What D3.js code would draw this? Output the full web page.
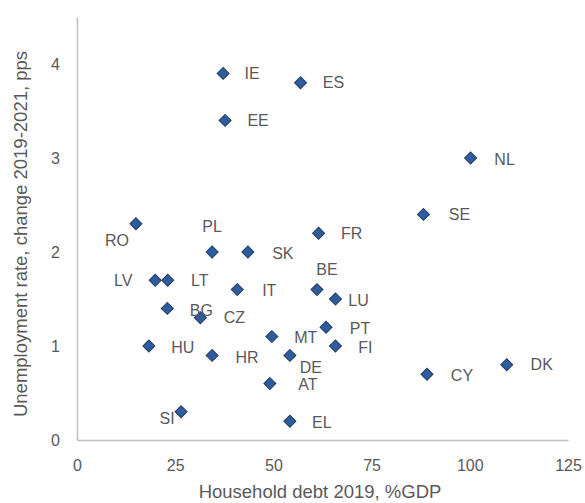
<!DOCTYPE html>
<html>
<head>
<meta charset="utf-8">
<script src="https://cdn.jsdelivr.net/npm/d3@7"></script>
<style>
  html, body { margin: 0; padding: 0; background: #fff; }
  svg { display: block; }
  text { font-family: "Liberation Sans", Arial, sans-serif; fill: #595959; }
</style>
</head>
<body>
<svg id="chart" width="585" height="503"></svg>
<script>
// ---- data ----
const countries = ["IE","ES","EE","NL","SE","FR","RO","PL","SK","LV","LT","IT","BG","CZ","HU","HR","MT","DE","AT","SI","EL","BE","LU","PT","FI","CY","DK"];
const householdDebt = [37.2,56.9,37.7,100.2,88.2,61.5,15.0,34.4,43.5,19.9,23.1,40.8,23.0,31.4,18.3,34.4,49.6,54.2,49.1,26.5,54.2,61.1,65.8,63.4,65.8,89.1,109.4];
const unemploymentChange = [3.9,3.8,3.4,3.0,2.4,2.2,2.3,2.0,2.0,1.7,1.7,1.6,1.4,1.3,1.0,0.9,1.1,0.9,0.6,0.3,0.2,1.6,1.5,1.2,1.0,0.7,0.8];
const xTicks = [0,25,50,75,100,125];
const yTicks = [0,1,2,3,4];
const xTitle = "Household debt 2019, %GDP";
const yTitle = "Unemployment rate, change 2019-2021, pps";

// ---- layout (label offsets in px from the marker) ----
const labelOffsets = {
  IE:[29,0], ES:[33,0], EE:[33,0], NL:[34,1], SE:[36,0], FR:[33,0],
  RO:[-19,17], PL:[0,-26], SK:[35,1], LV:[-32,0], LT:[32,0], IT:[32,1],
  BG:[34,2], CZ:[34,0], HU:[34,1], HR:[35,2], MT:[34,1], DE:[21,12],
  AT:[38,1], SI:[-14,7], EL:[32,1], BE:[10,-20], LU:[23,1], PT:[34,1],
  FI:[30,1], CY:[35,1], DK:[35,0]
};

const svg = d3.select("#chart");
const x = d3.scaleLinear().domain([0,125]).range([77,568]);
const y = d3.scaleLinear().domain([0,4.5]).range([440,17]);

const axisColor = "#BFBFBF";

// x axis
const gx = svg.append("g").attr("transform","translate(0,440)")
  .call(d3.axisBottom(x).tickValues(xTicks).tickFormat(d3.format("d")).tickSizeInner(0).tickSizeOuter(0).tickPadding(20));
gx.select(".domain").attr("stroke", axisColor).attr("stroke-width",1.5);
gx.selectAll("text").style("font-size","16px").style("fill","#595959");

// y axis
const gy = svg.append("g").attr("transform","translate(77,0)")
  .call(d3.axisLeft(y).tickValues(yTicks).tickFormat(d3.format("d")).tickSizeInner(0).tickSizeOuter(0).tickPadding(17));
gy.select(".domain").attr("stroke", axisColor).attr("stroke-width",1.5);
gy.selectAll("text").style("font-size","16px").style("fill","#595959");

// titles
svg.append("text").attr("x", 320).attr("y", 498).attr("text-anchor","middle")
  .style("font-size","18.5px").text(xTitle);
svg.append("text").attr("transform","translate(27,234) rotate(-90)").attr("text-anchor","middle")
  .style("font-size","18.5px").text(yTitle);

// points
const data = countries.map((c,i)=>({c, xv: householdDebt[i], yv: unemploymentChange[i]}));
const diamond = d3.symbol().type(d3.symbolSquare).size(72);
svg.append("g").selectAll("path").data(data).join("path")
  .attr("d", diamond)
  .attr("transform", d => `translate(${x(d.xv)},${y(d.yv)}) rotate(45)`)
  .attr("fill", "#2F5C9B")
  .attr("stroke", "#1F3D6B")
  .attr("stroke-width", 1);

// labels
svg.append("g").selectAll("text").data(data).join("text")
  .attr("x", d => x(d.xv) + labelOffsets[d.c][0])
  .attr("y", d => y(d.yv) + labelOffsets[d.c][1])
  .attr("dy","0.35em")
  .attr("text-anchor","middle")
  .style("font-size","16px")
  .text(d => d.c);
</script>
</body>
</html>
